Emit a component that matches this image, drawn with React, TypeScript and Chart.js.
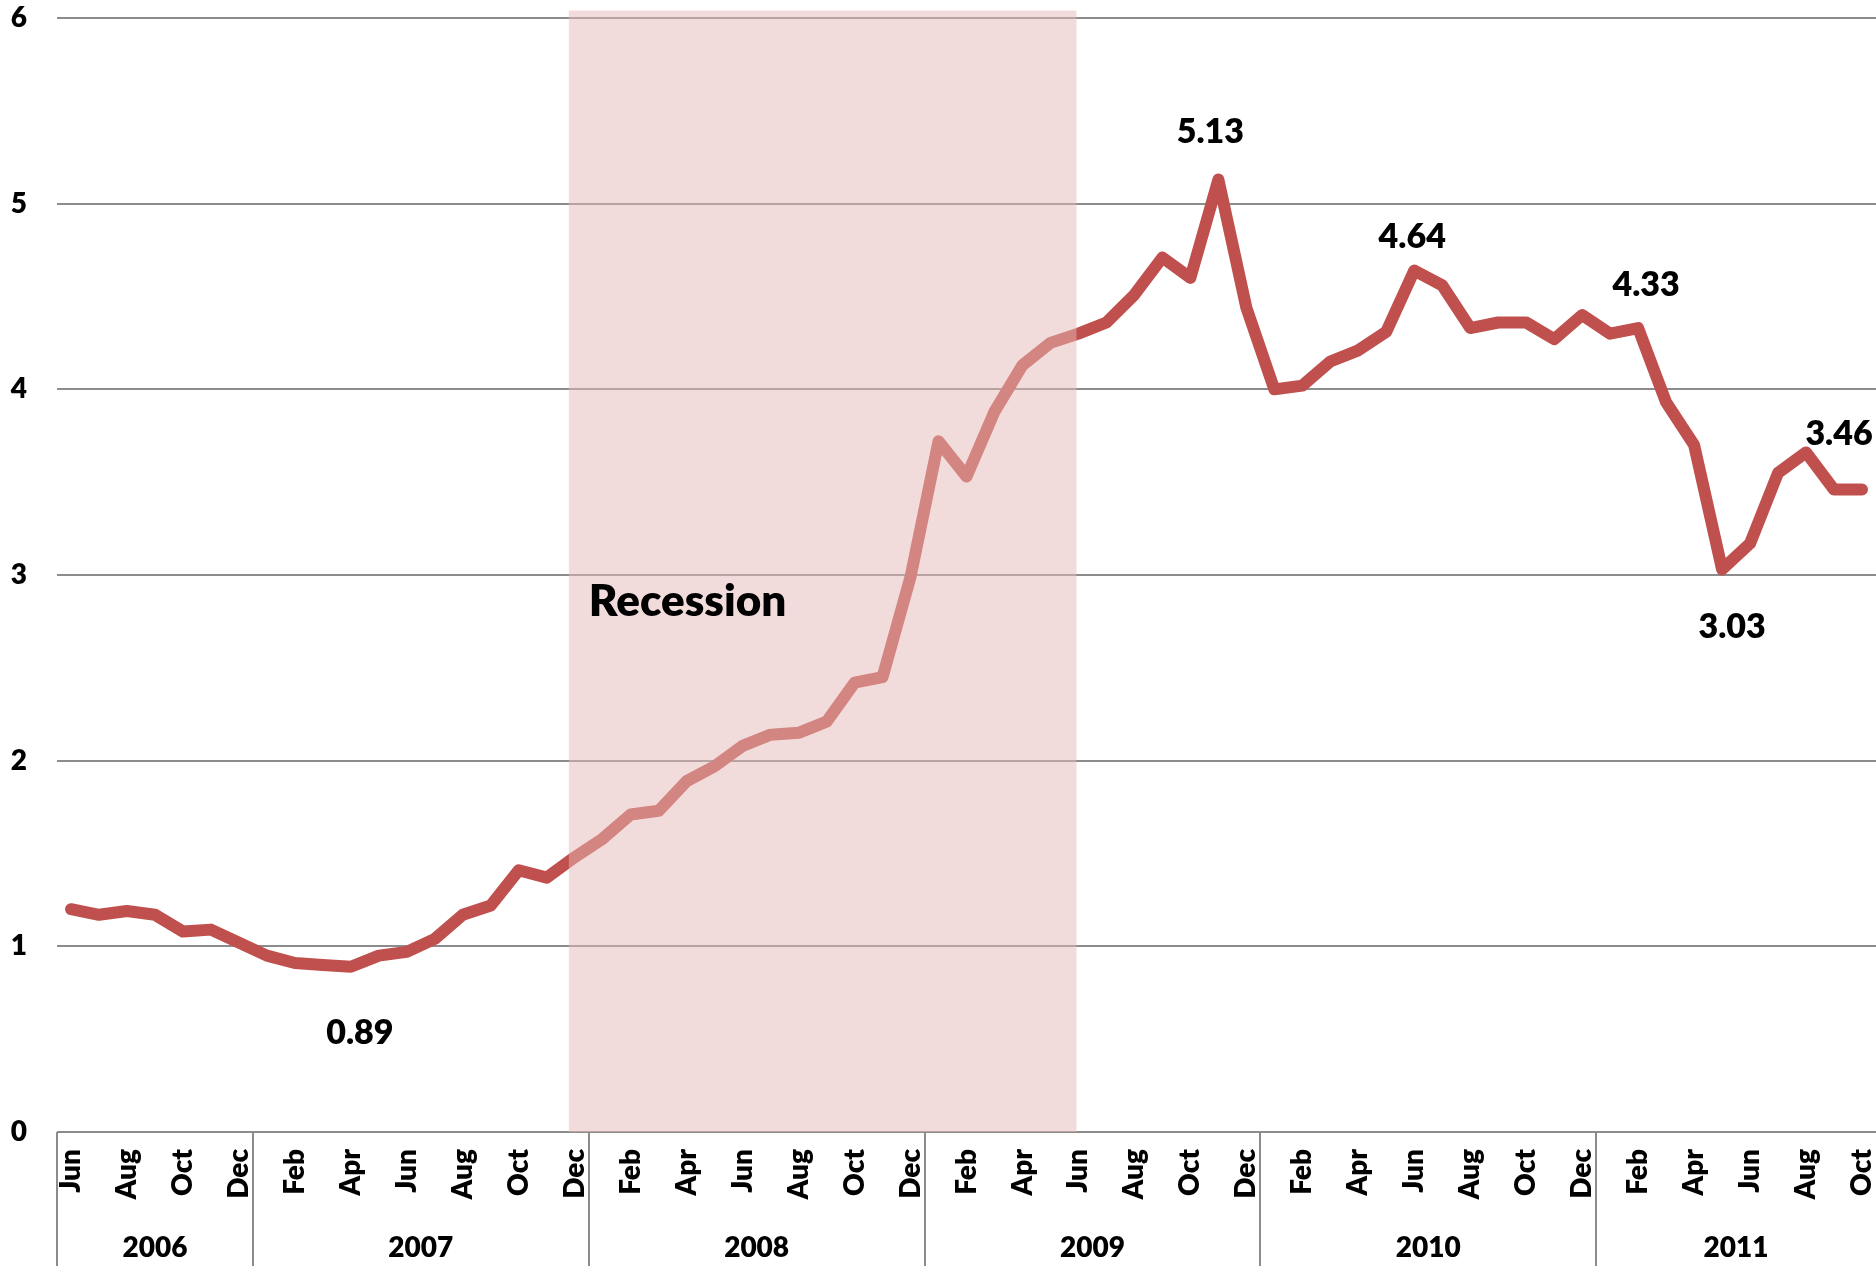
import React, { useEffect, useRef } from 'react';
import { Chart, registerables } from 'chart.js';

Chart.register(...registerables);

// Categories: one per month, June 2006 – October 2011
const monthLabels = [
  'Jun', 'Jul', 'Aug', 'Sep', 'Oct', 'Nov', 'Dec',
  'Jan', 'Feb', 'Mar', 'Apr', 'May', 'Jun', 'Jul', 'Aug', 'Sep', 'Oct', 'Nov', 'Dec',
  'Jan', 'Feb', 'Mar', 'Apr', 'May', 'Jun', 'Jul', 'Aug', 'Sep', 'Oct', 'Nov', 'Dec',
  'Jan', 'Feb', 'Mar', 'Apr', 'May', 'Jun', 'Jul', 'Aug', 'Sep', 'Oct', 'Nov', 'Dec',
  'Jan', 'Feb', 'Mar', 'Apr', 'May', 'Jun', 'Jul', 'Aug', 'Sep', 'Oct', 'Nov', 'Dec',
  'Jan', 'Feb', 'Mar', 'Apr', 'May', 'Jun', 'Jul', 'Aug', 'Sep', 'Oct',
];
const yearLabels = ['2006', '2007', '2008', '2009', '2010', '2011'];
const monthsPerYear = [7, 12, 12, 12, 12, 10];

// Series values
const rateValues = [
  1.20, 1.17, 1.19, 1.17, 1.08, 1.09, 1.02,
  0.95, 0.91, 0.90, 0.89, 0.95, 0.97, 1.04, 1.17, 1.22, 1.41, 1.37, 1.48,
  1.58, 1.71, 1.73, 1.89, 1.97, 2.08, 2.14, 2.15, 2.21, 2.42, 2.45, 2.99,
  3.72, 3.53, 3.88, 4.13, 4.25, 4.30, 4.36, 4.51, 4.71, 4.60, 5.13, 4.44,
  4.00, 4.02, 4.15, 4.21, 4.31, 4.64, 4.56, 4.33, 4.36, 4.36, 4.27, 4.40,
  4.30, 4.33, 3.93, 3.70, 3.03, 3.17, 3.55, 3.66, 3.46, 3.46,
];

// Points that carry a value label
const annotatedIndices = [10, 41, 48, 56, 59, 63];

// Recession band, in category-index units (Dec 2007 – Jun 2009)
const recessionStart = 17.79;
const recessionEnd = 35.93;
const recessionTop = 6.04;
const recessionLabel = 'Recession';

// Y axis
const yMin = 0;
const yMax = 6;
const yStep = 1;

const FONT = 'Lato';
const WEIGHT = 800;
const GRID = '#8c8c8c';

// label placement (offset of label centre from its point, px)
const labelOffsets: Record<number, [number, number]> = {
  10: [9, 66],
  41: [-8, -47],
  48: [-2, -33],
  56: [8, -43],
  59: [10, 58],
  63: [5, -56],
};

const overlayPlugin = {
  id: 'overlay',
  afterDatasetsDraw(chart: any) {
    const { ctx, scales } = chart;
    const x = scales.x;
    const y = scales.y;
    ctx.save();
    // recession shading drawn over grid and line
    const l = x.getPixelForValue(recessionStart);
    const r = x.getPixelForValue(recessionEnd);
    const t = y.getPixelForValue(recessionTop);
    const b = y.getPixelForValue(0);
    ctx.fillStyle = 'rgba(230,185,184,0.5)';
    ctx.fillRect(l, t, r - l, b - t);

    ctx.fillStyle = '#000';
    ctx.font = `${WEIGHT} 44px ${FONT}`;
    ctx.textAlign = 'left';
    ctx.textBaseline = 'alphabetic';
    ctx.fillText(recessionLabel, l + 20, y.getPixelForValue(2.78));

    // data labels
    ctx.font = `${WEIGHT} 34px ${FONT}`;
    ctx.textAlign = 'center';
    ctx.textBaseline = 'middle';
    annotatedIndices.forEach((i) => {
      const v = rateValues[i];
      const px = x.getPixelForValue(i);
      const py = y.getPixelForValue(v);
      const [dx, dy] = labelOffsets[i] || [0, -40];
      ctx.fillText(v.toFixed(2), px + dx, py + dy);
    });
    ctx.restore();
  },
  afterDraw(chart: any) {
    const { ctx, scales } = chart;
    const x = scales.x;
    const y = scales.y;
    const top = y.getPixelForValue(0);
    const bottom = chart.height;
    ctx.save();
    ctx.strokeStyle = GRID;
    ctx.lineWidth = 2;
    ctx.fillStyle = '#000';
    ctx.font = `${WEIGHT} 28px ${FONT}`;
    ctx.textAlign = 'center';
    ctx.textBaseline = 'middle';
    let start = 0;
    monthsPerYear.forEach((n, k) => {
      const x0 = x.getPixelForValue(start - 0.5);
      const x1 = x.getPixelForValue(start + n - 0.5);
      ctx.beginPath();
      ctx.moveTo(Math.round(x0), top);
      ctx.lineTo(Math.round(x0), bottom);
      ctx.stroke();
      ctx.fillText(yearLabels[k], (x0 + x1) / 2, 1248);
      start += n;
    });
    ctx.restore();
  },
};

export default function App() {
  const ref = useRef<HTMLCanvasElement>(null);
  useEffect(() => {
    document.body.style.margin = '0';
    const canvas = ref.current;
    if (!canvas) return;
    const chart = new Chart(canvas, {
      type: 'line',
      data: {
        labels: monthLabels,
        datasets: [
          {
            data: rateValues,
            borderColor: '#C0504D',
            borderWidth: 12,
            pointRadius: 0,
            pointHoverRadius: 0,
            tension: 0,
            fill: false,
            borderCapStyle: 'round',
            borderJoinStyle: 'round',
          },
        ],
      },
      options: {
        animation: false,
        responsive: false,
        devicePixelRatio: 1,
        layout: { padding: { top: 18, left: 0, right: 0, bottom: 0 } },
        plugins: { legend: { display: false }, tooltip: { enabled: false } },
        scales: {
          x: {
            type: 'category',
            offset: true,
            grid: { display: false, drawTicks: false },
            border: { display: false },
            ticks: {
              autoSkip: false,
              minRotation: 90,
              maxRotation: 90,
              padding: 17,
              color: '#000',
              font: { family: FONT, weight: WEIGHT, size: 28 },
              callback: (_v: any, i: number) => (i % 2 === 0 ? monthLabels[i] : ''),
            },
            afterFit: (s: any) => {
              s.height = 134;
              s.paddingLeft = 0;
              s.paddingRight = 0;
              s.paddingTop = 0;
              s.paddingBottom = 0;
            },
          },
          y: {
            min: yMin,
            max: yMax,
            ticks: {
              stepSize: yStep,
              padding: 30,
              color: '#000',
              font: { family: FONT, weight: WEIGHT, size: 28 },
            },
            grid: { color: GRID, lineWidth: 2, drawTicks: false },
            border: { display: false },
            afterFit: (s: any) => {
              s.width = 57;
              s.paddingTop = 0;
              s.paddingBottom = 0;
              s.paddingLeft = 0;
              s.paddingRight = 0;
            },
          },
        },
      },
      plugins: [overlayPlugin],
    } as any);
    return () => chart.destroy();
  }, []);
  return (
    <div style={{ position: 'absolute', left: 0, top: 0, width: 1876, height: 1266 }}>
      <canvas ref={ref} width={1876} height={1266} style={{ width: 1876, height: 1266, display: 'block' }} />
    </div>
  );
}
